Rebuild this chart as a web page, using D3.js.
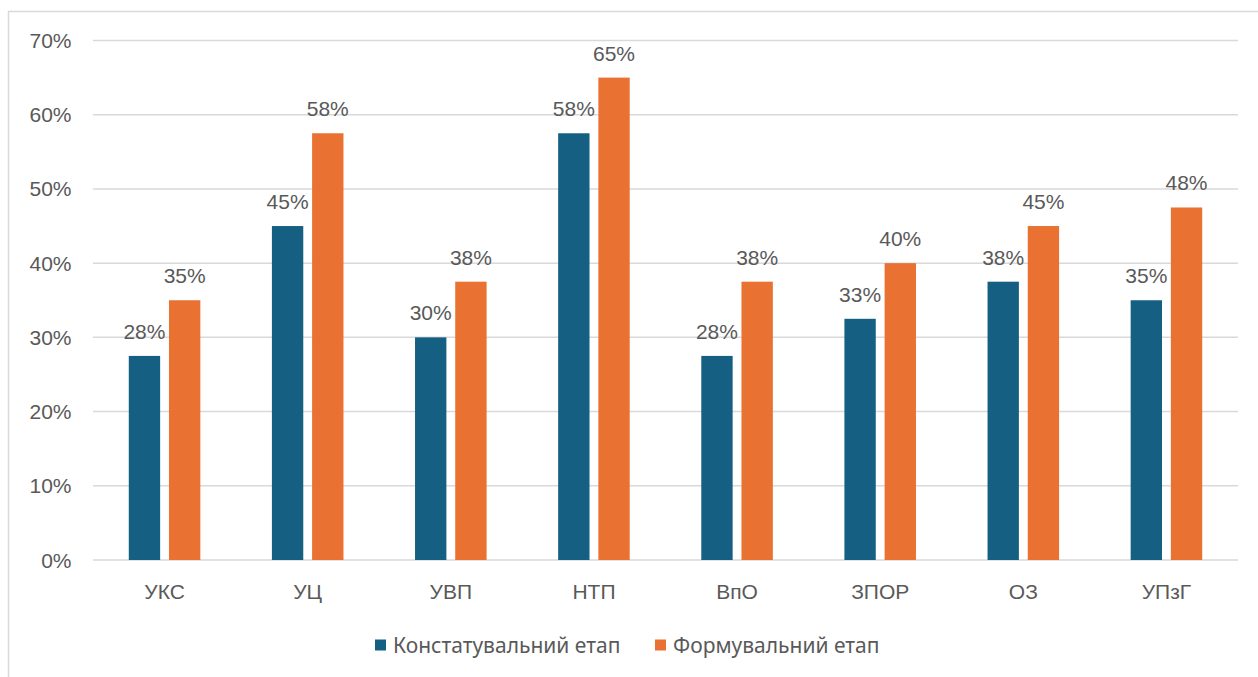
<!DOCTYPE html>
<html><head><meta charset="utf-8">
<script src="https://cdn.jsdelivr.net/npm/d3@7"></script>
<style>
html,body{margin:0;padding:0;background:#fff;}
svg{display:block;}
</style></head>
<body>
<svg id="chart" width="1258" height="677"></svg>
<script>
const categories = ["УКС","УЦ","УВП","НТП","ВпО","ЗПОР","ОЗ","УПзГ"];
const seriesNames = ["Констатувальний етап","Формувальний етап"];
const constatValues = [27.5, 45, 30, 57.5, 27.5, 32.5, 37.5, 35];
const formValues = [35, 57.5, 37.5, 65, 37.5, 40, 45, 47.5];
const dataLabelsConstat = ["28%","45%","30%","58%","28%","33%","38%","35%"];
const dataLabelsForm = ["35%","58%","38%","65%","38%","40%","45%","48%"];
const yTicks = [0,10,20,30,40,50,60,70];
const colors = ["#156082","#E97132"];

const svg = d3.select("#chart");
const textColor = "#595959";
const axisFont = "'Liberation Sans', Arial, sans-serif";
const legendFont = "'Noto Sans', 'Open Sans', sans-serif";
const axisSize = 21;

// frame
svg.append("rect").attr("x",8.5).attr("y",11.5).attr("width",1400).attr("height",800)
  .attr("fill","none").attr("stroke","#d9d9d9").attr("stroke-width",1.5);

const x0 = d3.scaleBand().domain(categories).range([93,1238]).paddingInner(0).paddingOuter(0);
const bw = x0.bandwidth();
const x1 = d3.scaleBand().domain(seriesNames).range([bw*0.25, bw*0.75]).paddingInner(0.22);
const y = d3.scaleLinear().domain([0,70]).range([560,40.5]);

// gridlines
svg.append("g").selectAll("line").data(yTicks).join("line")
  .attr("x1",93).attr("x2",1238)
  .attr("y1",d=>y(d)).attr("y2",d=>y(d))
  .attr("stroke","#d9d9d9").attr("stroke-width",1.5);

// y labels
svg.append("g").selectAll("text").data(yTicks).join("text")
  .attr("x",71.5).attr("y",d=>y(d)).attr("dy","0.36em")
  .attr("text-anchor","end").attr("fill",textColor)
  .attr("font-family",axisFont).attr("font-size",axisSize)
  .text(d=>d+"%");

const rows = categories.map((c,i)=>({c, vals:[
  {s:seriesNames[0], v:constatValues[i], lab:dataLabelsConstat[i], col:colors[0]},
  {s:seriesNames[1], v:formValues[i], lab:dataLabelsForm[i], col:colors[1]}
]}));

const g = svg.append("g").selectAll("g").data(rows).join("g")
  .attr("transform",d=>`translate(${x0(d.c)},0)`);

g.selectAll("rect").data(d=>d.vals).join("rect")
  .attr("x",d=>x1(d.s)).attr("width",x1.bandwidth())
  .attr("y",d=>y(d.v)).attr("height",d=>y(0)-y(d.v))
  .attr("fill",d=>d.col);

g.selectAll("text.lab").data(d=>d.vals).join("text").attr("class","lab")
  .attr("x",d=>x1(d.s)+x1.bandwidth()/2).attr("y",d=>y(d.v)-17)
  .attr("text-anchor","middle").attr("fill",textColor)
  .attr("font-family",axisFont).attr("font-size",axisSize)
  .text(d=>d.lab);

// category labels
svg.append("g").selectAll("text").data(categories).join("text")
  .attr("x",d=>x0(d)+bw/2).attr("y",599)
  .attr("text-anchor","middle").attr("fill",textColor)
  .attr("font-family",axisFont).attr("font-size",axisSize)
  .text(d=>d);

// legend
const legendX = [375, 655];
const lg = svg.append("g").selectAll("g").data(seriesNames).join("g")
  .attr("transform",(d,i)=>`translate(${legendX[i]},0)`);
lg.append("rect").attr("x",0).attr("y",639.5).attr("width",11).attr("height",11)
  .attr("fill",(d,i)=>colors[i]);
lg.append("text").attr("x",18).attr("y",652.5)
  .attr("fill",textColor).attr("font-family",legendFont).attr("font-size",21)
  .text(d=>d);
</script>
</body></html>
